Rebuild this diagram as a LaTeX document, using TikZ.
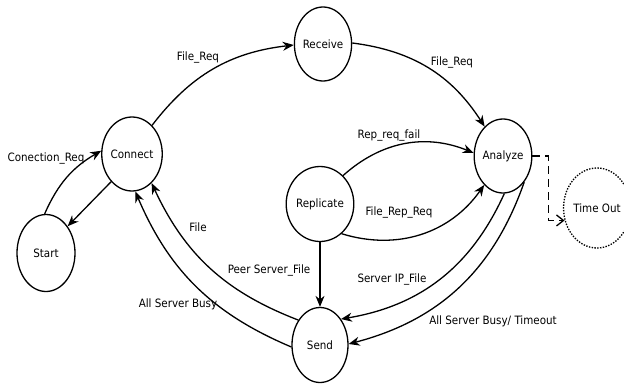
\documentclass[tikz,border=0pt]{standalone}
\usepackage{fontspec}
\setmainfont{DejaVu Sans Condensed}
\usetikzlibrary{arrows.meta,shapes.geometric}
\begin{document}
\begin{tikzpicture}[x=1pt,y=1pt,
  state/.style={ellipse,draw,line width=1.3pt,inner sep=0pt,font=\fontsize{11.5}{13}\selectfont},
  trans/.style={line width=1.3pt,-{Stealth[length=11pt,width=9pt]}},
  lbl/.style={font=\fontsize{11.5}{13}\selectfont,inner sep=0pt}]
\useasboundingbox (0,0) rectangle (624,-388);
\fill[white] (0,0) rectangle (624,-388);
% states
\node[state,minimum width=58pt,minimum height=77pt] (start) at (46,-253) {Start};
\node[state,minimum width=60pt,minimum height=74pt] (connect) at (132,-154) {Connect};
\node[state,minimum width=57pt,minimum height=74pt] (receive) at (323,-44) {Receive};
\node[state,minimum width=57pt,minimum height=74pt] (analyze) at (503,-156) {Analyze};
\node[state,minimum width=56pt,minimum height=75pt] (replicate) at (320,-204) {Replicate};
\node[state,minimum width=56pt,minimum height=75pt] (send) at (320,-345) {Send};
\node[state,dash pattern=on 1.4pt off 1.4pt,minimum width=54pt,minimum height=80pt] (timeout) at (597,-208) {Time Out};
% transitions
\draw[trans] (start.92) to[bend left=18] (connect.174);
\draw[trans] (connect.233) -- (start.51);
\draw[trans] (connect.55) to[bend left=23] (receive.182);
\draw[trans] (receive.2) to[bend left=25] (analyze.122);
\draw[trans] (replicate.51) to[bend left=32] (analyze.174);
\draw[trans] (replicate.306) to[bend right=36] (analyze.237);
\draw[trans] (replicate.south) -- (send.north);
\draw[trans] (analyze.272) to[bend left=28] (send.51);
\draw[trans] (analyze.309) to[bend left=28] (send.2);
\draw[trans] (send.131) to[bend left=22] (connect.304);
\draw[trans] (send.184) to[bend left=22] (connect.275);
\draw[line width=1.3pt,dash pattern=on 8pt off 5pt,-{Straight Barb[length=7pt,width=11pt]}]
  (analyze.east) -- ++(16,0) |- (timeout.201);
% labels
\node[lbl] (l1) at (46,-158) {Conection\_Req};
\node[lbl] (l2) at (198,-57) {File\_Req};
\node[lbl] (l3) at (452,-62) {File\_Req};
\node[lbl] (l4) at (389,-135) {Rep\_req\_fail};
\node[lbl] (l5) at (399,-212) {File\_Rep\_Req};
\node[lbl] (l6) at (269,-270) {Peer Server\_File};
\node[lbl] (l7) at (392,-279) {Server IP\_File};
\node[lbl] (l8) at (493,-321) {All Server Busy/ Timeout};
\node[lbl] (l9) at (198,-227) {File};
\node[lbl] (l10) at (178,-304) {All Server Busy};
\end{tikzpicture}
\end{document}
